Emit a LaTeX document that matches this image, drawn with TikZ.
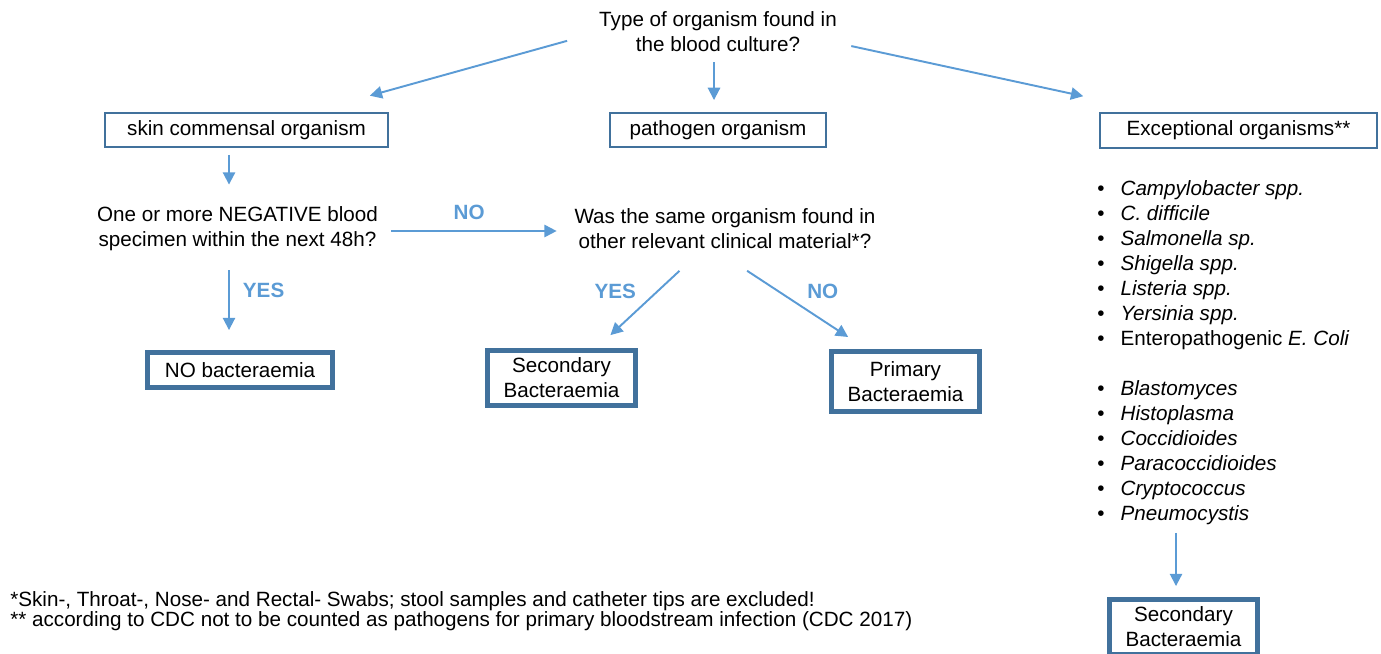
\documentclass[tikz,border=0pt]{standalone}
\usepackage{fontspec}
\setmainfont{Liberation Sans}
\usetikzlibrary{arrows.meta}
\definecolor{arrowblue}{HTML}{5B9BD5}
\definecolor{boxblue}{HTML}{41719C}
\newcommand{\diagsize}{\fontsize{11.75}{14.2}\selectfont}
\newcommand{\notesize}{\fontsize{11.75}{11.7}\selectfont}
\tikzset{
  arr/.style={draw=arrowblue, line width=1.1pt, -{Triangle[length=7pt,width=7pt]}},
  thinbox/.style={draw=boxblue, line width=1.1pt, align=center},
  thickbox/.style={draw=boxblue, line width=2.8pt, align=center},
  txt/.style={align=center, inner sep=0pt},
  lbl/.style={text=arrowblue, inner sep=0pt, font=\diagsize\bfseries}
}
\begin{document}
\begin{tikzpicture}[x=0.02cm,y=-0.02cm,font=\diagsize]
        \useasboundingbox (0,0) rectangle (1381,653);
        \node[txt] (type) at (718,32) {Type of organism found in\\the blood culture?};
        \node[thinbox, minimum width=5.66cm, minimum height=0.68cm] (skin) at (246.5,130) {skin commensal organism};
        \node[thinbox, minimum width=4.32cm, minimum height=0.68cm] (patho) at (718,130) {pathogen organism};
        \node[thinbox, minimum width=5.54cm, minimum height=0.7cm] (exc) at (1238.5,130.5) {Exceptional organisms**};
        \node[txt] (neg) at (237.5,229) {One or more NEGATIVE blood\\specimen within the next 48h?};
        \node[txt] (same) at (725,229) {Was the same organism found in\\other relevant clinical material*?};
        \node[thickbox, minimum width=3.7cm, minimum height=0.7cm] (nobact) at (240,370) {NO bacteraemia};
        \node[thickbox, minimum width=2.96cm, minimum height=1.1cm] (secbact) at (561.5,378) {Secondary\\Bacteraemia};
        \node[thickbox, minimum width=2.96cm, minimum height=1.2cm] (pribact) at (905.5,381.5) {Primary\\Bacteraemia};
        \node[anchor=north west, inner sep=0pt] (exlist) at (1097,178) {\begin{tabular}{@{}l@{\hspace{0.32cm}}l@{}}
          \textbullet & \textit{Campylobacter spp.}\\
          \textbullet & \textit{C. difficile}\\
          \textbullet & \textit{Salmonella sp.}\\
          \textbullet & \textit{Shigella spp.}\\
          \textbullet & \textit{Listeria spp.}\\
          \textbullet & \textit{Yersinia spp.}\\
          \textbullet & Enteropathogenic \textit{E. Coli}\\
           & \\
          \textbullet & \textit{Blastomyces}\\
          \textbullet & \textit{Histoplasma}\\
          \textbullet & \textit{Coccidioides}\\
          \textbullet & \textit{Paracoccidioides}\\
          \textbullet & \textit{Cryptococcus}\\
          \textbullet & \textit{Pneumocystis}
        \end{tabular}};
        \node[thickbox, minimum width=2.96cm, minimum height=1.1cm] (secbact2) at (1183.5,627) {Secondary\\Bacteraemia};
        \node[txt, anchor=west, align=left, font=\notesize] (notes) at (10,611) {*Skin-, Throat-, Nose- and Rectal- Swabs; stool samples and catheter tips are excluded!\\** according to CDC not to be counted as pathogens for primary bloodstream infection (CDC 2017)};
        \draw[arr, shorten <=0.66cm, shorten >=1.22cm] (type.west) to (skin);
        \draw[arr, shorten <=0.2cm, shorten >=0.24cm] ([xshift=-0.08cm]type.south) to ([xshift=-0.08cm]type.south |- patho.north);
        \draw[arr, shorten <=0.29cm, shorten >=1.5cm] ([yshift=-0.22cm]type.east) to ([xshift=-1.64cm]exc.north);
        \draw[arr, shorten <=0.14cm, shorten >=0.44cm] ([xshift=-0.35cm]skin.south) to ([xshift=-0.35cm]skin.south |- neg.north);
        \draw[arr, shorten <=0.26cm, shorten >=0.35cm] ([yshift=-0.04cm]neg.east) to node[lbl, above=0.2cm, xshift=-0.14cm] {NO} ([yshift=-0.04cm]same.west);
        \draw[arr, shorten <=0.38cm, shorten >=0.4cm] ([xshift=-0.17cm]neg.south) to node[lbl, right=0.26cm, pos=0.39] {YES} ([xshift=-0.17cm]neg.south |- nobact.north);
        \draw[arr, shorten <=0.63cm, shorten >=0.38cm] ([xshift=-0.45cm]same.south) to node[lbl, left=0.4cm, pos=0.43] {YES} ([xshift=0.7cm]secbact.north);
        \draw[arr, shorten <=0.78cm, shorten >=0.44cm] ([xshift=-0.21cm]same.south) to node[lbl, right=0.56cm, pos=0.42] {NO} ([xshift=-0.78cm]pribact.north);
        \draw[arr, shorten <=0.1cm, shorten >=0.22cm] ([xshift=-0.15cm]secbact2.north |- exlist.south) to ([xshift=-0.15cm]secbact2.north);
      \end{tikzpicture}
\end{document}
